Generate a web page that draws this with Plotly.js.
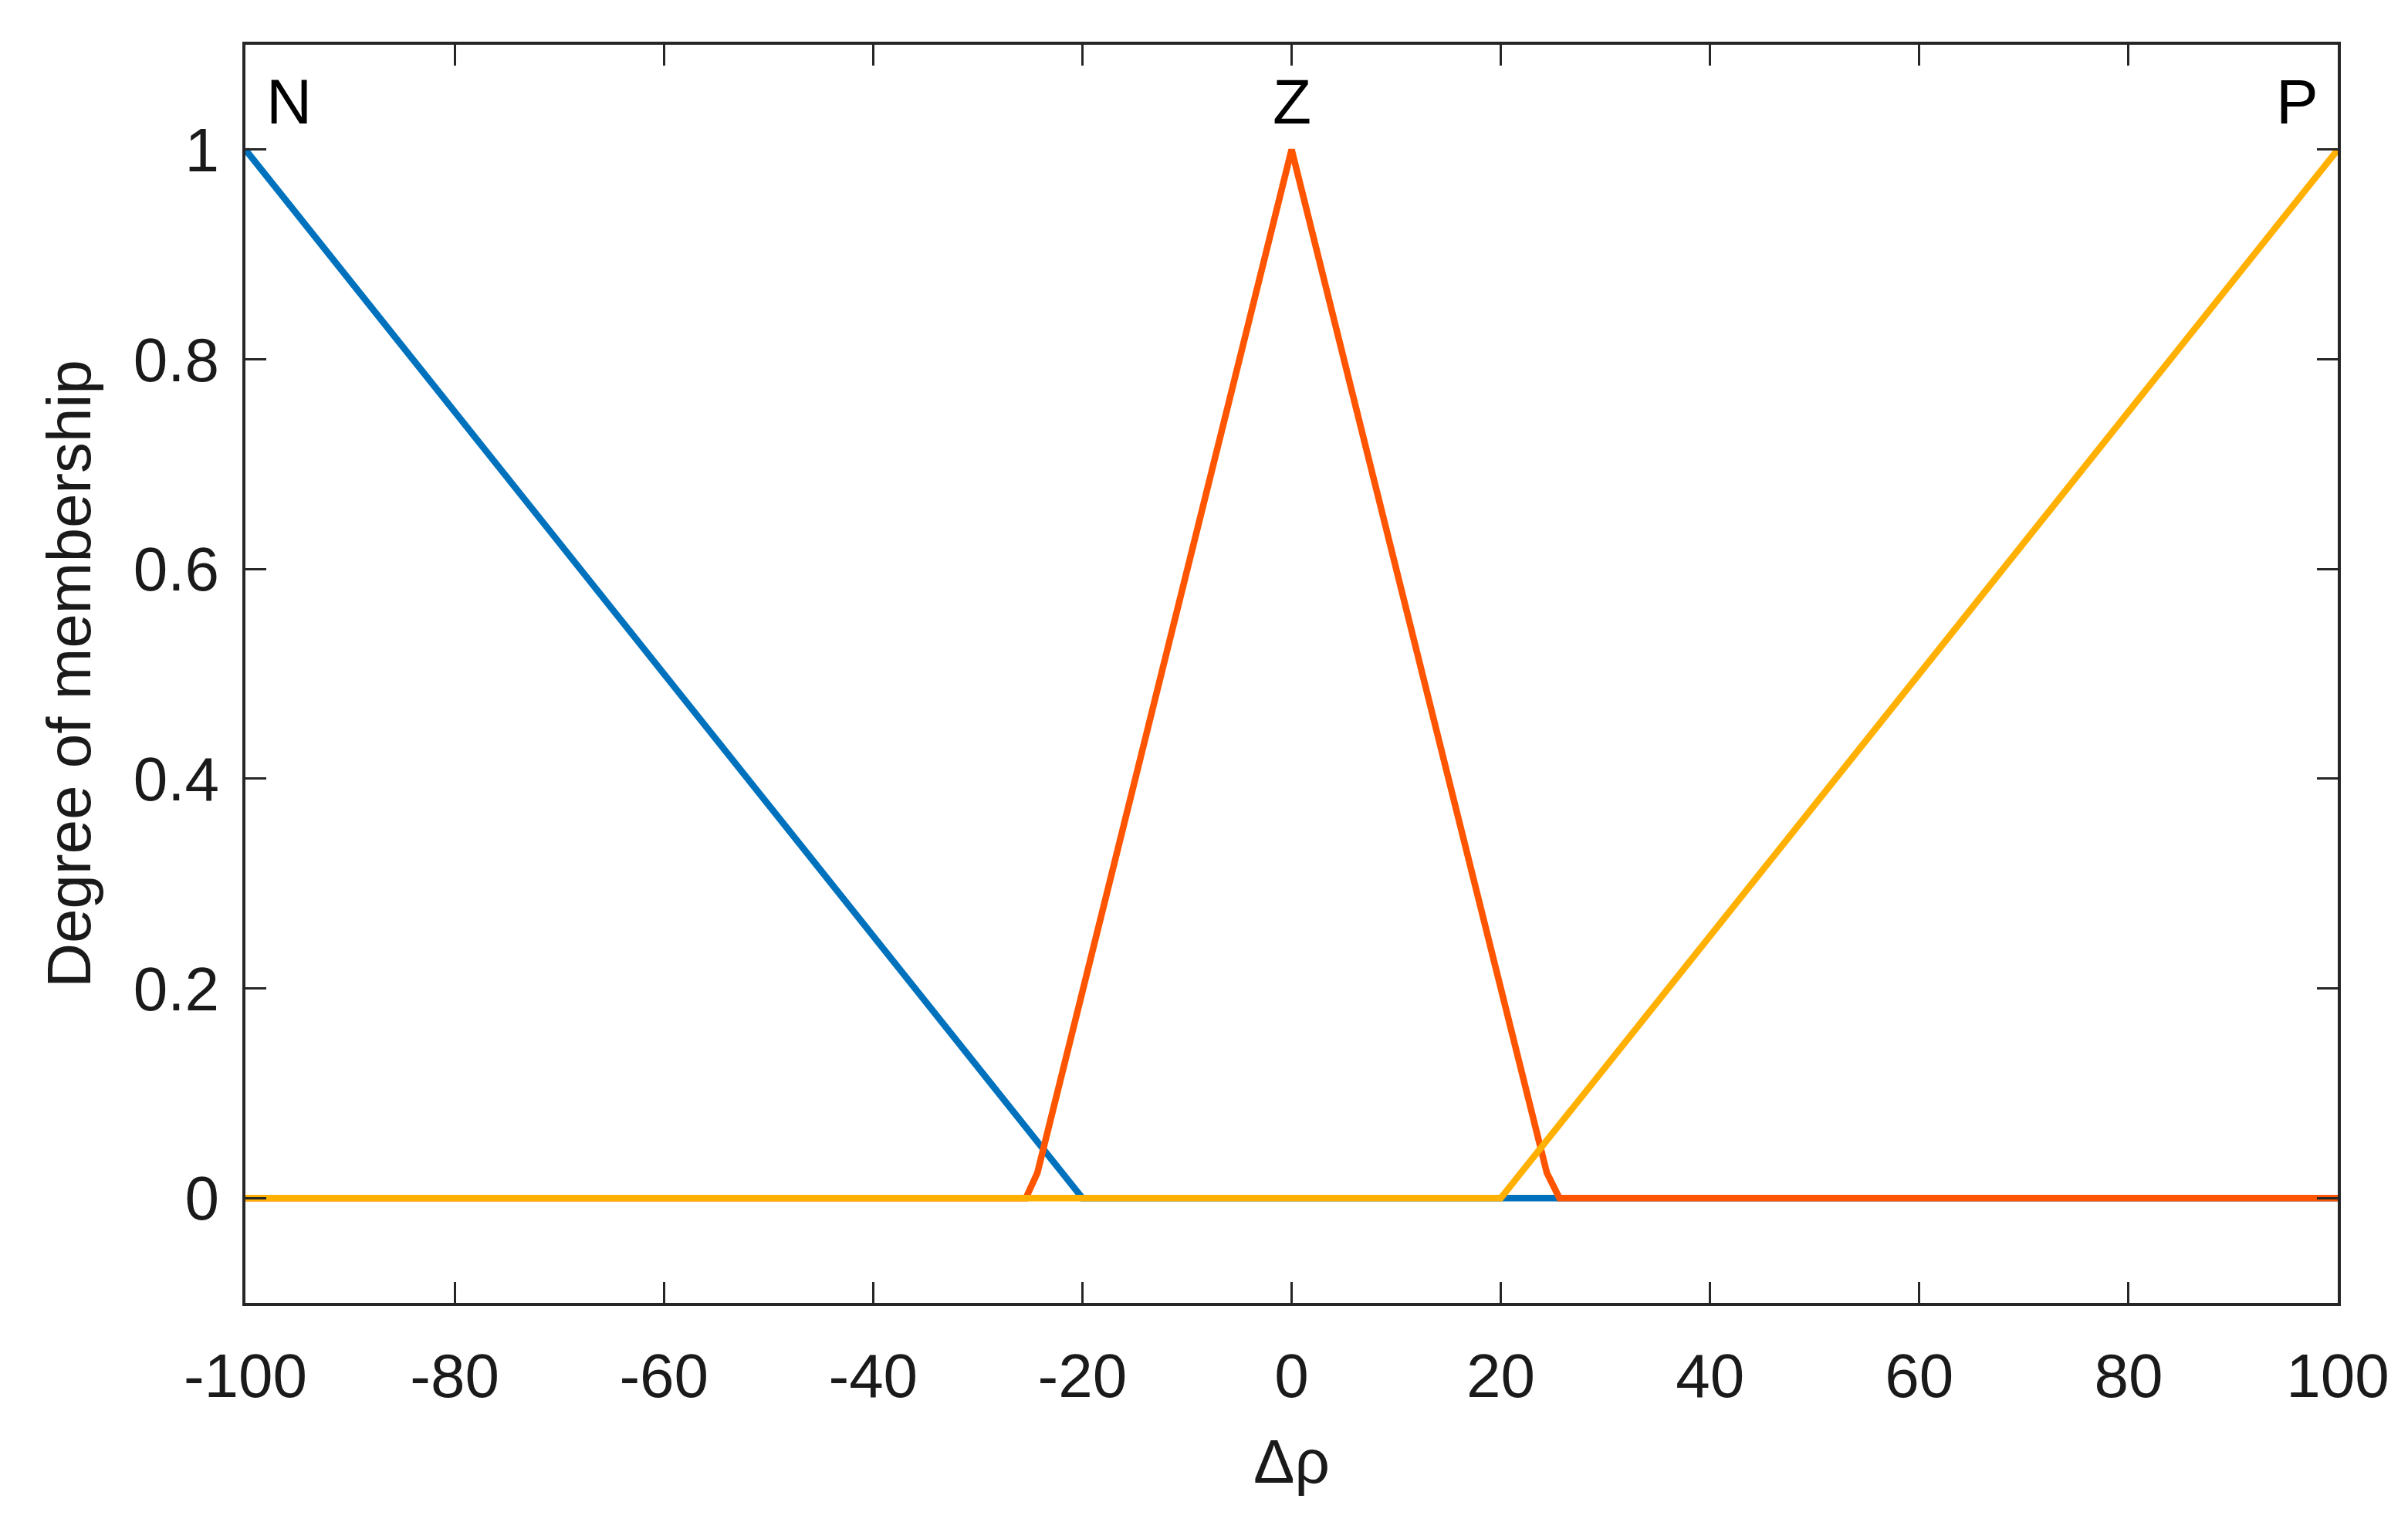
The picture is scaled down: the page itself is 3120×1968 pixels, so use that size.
<!DOCTYPE html>
<html>
<head>
<meta charset="utf-8">
<script src="https://cdn.plot.ly/plotly-3.0.1.min.js"></script>
<style>html,body{margin:0;padding:0;background:#fff;}</style>
</head>
<body>
<div id="chart" style="width:3120px;height:1968px;"></div>
<script>
// Membership function N (negative)
const nX = [-100, -20, 100];
const nY = [1, 0, 0];
// Membership function Z (zero)
const zX = [-100, -25.4, -24.3, 0, 24.4, 25.6, 100];
const zY = [0, 0, 0.024, 1, 0.024, 0, 0];
// Membership function P (positive)
const pX = [-100, 20, 100];
const pY = [0, 0, 1];

const labelNames = ['N', 'Z', 'P'];
const labelX = [-95.8, 0, 96.1];
const labelY = [1.046, 1.046, 1.046];

const xTickVals = [-100, -80, -60, -40, -20, 0, 20, 40, 60, 80, 100];
const xTickText = ['-100', '-80', '-60', '-40', '-20', '0', '20', '40', '60', '80', '100'];
const yTickVals = [0, 0.2, 0.4, 0.6, 0.8, 1];
const yTickText = ['0', '0.2', '0.4', '0.6', '0.8', '1'];

const FONT = 'Liberation Sans, Arial, Helvetica, sans-serif';
const LW = 8.5;

const traces = [
  {x: nX, y: nY, mode: 'lines', line: {color: '#0072BD', width: LW}, name: 'N'},
  {x: zX, y: zY, mode: 'lines', line: {color: '#FF5500', width: LW}, name: 'Z'},
  {x: pX, y: pY, mode: 'lines', line: {color: '#FFB000', width: LW}, name: 'P'}
];

const annotations = labelNames.map((t, i) => ({
  x: labelX[i], y: labelY[i], xref: 'x', yref: 'y', text: t, showarrow: false,
  font: {family: FONT, size: 82, color: '#000'}, xanchor: 'center', yanchor: 'middle'
}));

const axisCommon = {
  showline: true, linecolor: '#262626', linewidth: 4, mirror: 'ticks',
  ticks: 'inside', ticklen: 27, tickwidth: 3, tickcolor: '#262626',
  showgrid: false, zeroline: false,
  tickfont: {family: FONT, size: 80, color: '#1a1a1a'}
};

const layout = {
  width: 3120, height: 1968,
  margin: {l: 318, r: 91, t: 58, b: 280},
  paper_bgcolor: '#fff', plot_bgcolor: '#fff',
  showlegend: false,
  xaxis: Object.assign({}, axisCommon, {
    range: [-100, 100], tickmode: 'array', tickvals: xTickVals, ticktext: xTickText,
    ticklabelstandoff: 22,
    title: {text: 'Δρ', font: {family: FONT, size: 80, color: '#1a1a1a'}, standoff: 40}
  }),
  yaxis: Object.assign({}, axisCommon, {
    range: [-0.1, 1.1], tickmode: 'array', tickvals: yTickVals, ticktext: yTickText,
    ticklabelstandoff: 14,
    title: {text: 'Degree of membership', font: {family: FONT, size: 80, color: '#1a1a1a'}, standoff: 30}
  }),
  annotations: annotations
};

Plotly.newPlot('chart', traces, layout, {staticPlot: true, displayModeBar: false});
</script>
</body>
</html>
